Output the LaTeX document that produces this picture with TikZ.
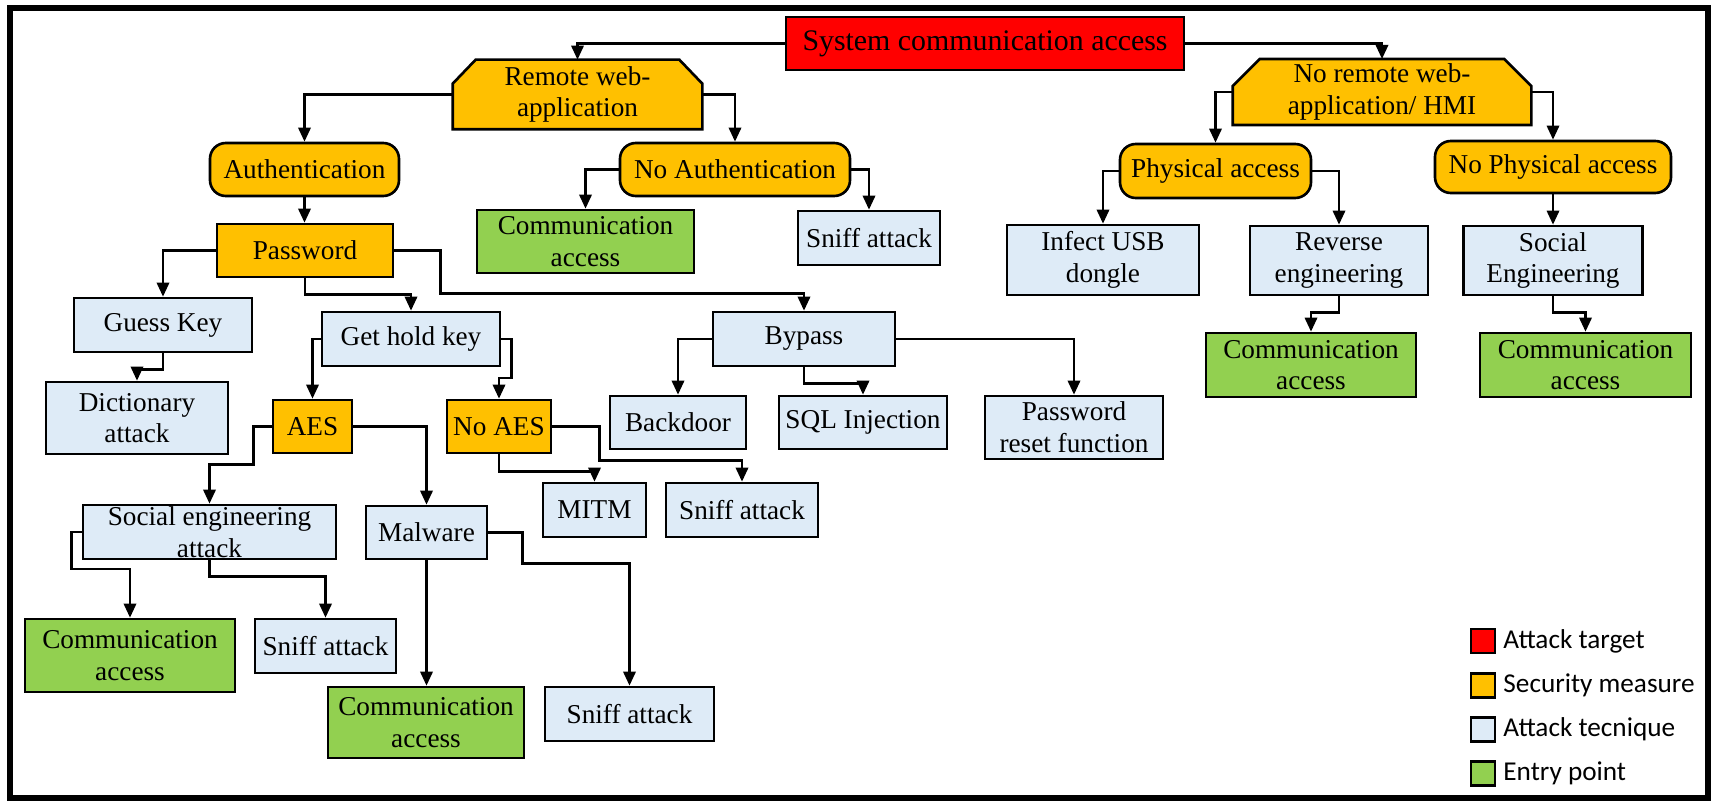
\documentclass[tikz,border=0pt]{standalone}
\usepackage{fontspec}
\setmainfont{Liberation Serif}
\newfontfamily\legendfont{Carlito}
\usepackage{tikz}
\usetikzlibrary{arrows.meta,backgrounds,positioning}
\usetikzlibrary{calc}
\definecolor{target}{HTML}{FF0000}
\definecolor{measure}{HTML}{FFC000}
\definecolor{technique}{HTML}{DEEBF7}
\definecolor{entry}{HTML}{92D050}

\begin{document}
\begin{tikzpicture}[x=0.02cm, y=-0.02cm,
	boxline/.style={draw, line width=1.5pt},
	box/.style={boxline, align=center, inner sep=2pt, font=\fontsize{15.5}{18}\selectfont},
	wh/.style 2 args={minimum width=#1*0.02cm, minimum height=#2*0.02cm},
	tech/.style={box, fill=technique},
	entrybox/.style={box, fill=entry},
	guard/.style={box, fill=measure},
	guardround/.style={guard, rounded corners=9pt},
	chamf/.style={box, draw=none},
	link/.style={draw, line width=1.4pt, -{Triangle[length=8pt,width=7pt]}},
	legsq/.style={draw, line width=1.2pt, minimum size=24*0.02cm, inner sep=0pt},
	legtxt/.style={font=\legendfont\fontsize{15.5}{18}\selectfont, inner sep=0pt}
	]
	\useasboundingbox (0,0) rectangle (1715,803);
	\draw[line width=3pt] (10,8) rectangle (1708,798);

	\node[box, fill=target, wh={398}{53}, font=\fontsize{17}{20}\selectfont] (root) at (985,43.5) {System communication access};
	\node[chamf, wh={247}{67}] (remote) at (577.5,94.5) {Remote web-\\application};
	\node[chamf, wh={296}{62}] (noremote) at (1382,92) {No remote web-\\application/ HMI};
	\node[guardround, wh={189}{53}] (auth) at (304.5,169.5) {Authentication};
	\node[guardround, wh={230}{53}] (noauth) at (735,169.5) {No Authentication};
	\node[guard, wh={176}{53}] (password) at (305,250.5) {Password};
	\node[entrybox, wh={217}{63}] (comm1) at (585.5,241.5) {Communication\\access};
	\node[tech, wh={142}{54}] (sniff1) at (869,238) {Sniff attack};
	\node[guardround, wh={191}{54}] (phys) at (1215.5,171) {Physical access};
	\node[guardround, wh={236}{52}] (nophys) at (1553,167) {No Physical access};
	\node[tech, wh={192}{70}] (usb) at (1103,260) {Infect USB\\dongle};
	\node[tech, wh={178}{69}] (reverse) at (1339,260.5) {Reverse\\engineering};
	\node[tech, wh={179}{69}] (soceng) at (1553,260.5) {Social\\Engineering};
	\node[entrybox, wh={210}{64}] (comm2) at (1311,365) {Communication\\access};
	\node[entrybox, wh={211}{64}] (comm3) at (1585.5,365) {Communication\\access};
	\node[tech, wh={178}{54}] (guess) at (163,325) {Guess Key};
	\node[tech, wh={182}{72}] (dict) at (137,418) {Dictionary\\attack};
	\node[tech, wh={178}{54}] (gethold) at (411,339) {Get hold key};
	\node[tech, wh={182}{54}] (bypass) at (804,339) {Bypass};
	\node[guard, wh={79}{53}] (aes) at (312.5,426.5) {AES};
	\node[guard, wh={104}{53}] (noaes) at (499,426.5) {No AES};
	\node[tech, wh={136}{53}] (backdoor) at (678,422.5) {Backdoor};
	\node[tech, wh={168}{53}] (sql) at (863,422.5) {SQL Injection};
	\node[tech, wh={178}{63}] (pwreset) at (1074,427.5) {Password\\reset function};
	\node[tech, wh={253}{54}, inner ysep=0pt] (socatt) at (209.5,532) {Social engineering\\attack};
	\node[tech, wh={121}{53}] (malware) at (426.5,532.5) {Malware};
	\node[tech, wh={103}{54}] (mitm) at (594.5,510) {MITM};
	\node[tech, wh={152}{54}] (sniff2) at (742,510) {Sniff attack};
	\node[entrybox, wh={210}{73}] (comm4) at (130,655.5) {Communication\\access};
	\node[tech, wh={141}{54}] (sniff3) at (325.5,646) {Sniff attack};
	\node[entrybox, wh={196}{71}] (comm5) at (426,722.5) {Communication\\access};
	\node[tech, wh={169}{54}] (sniff4) at (629.5,714) {Sniff attack};

	\begin{scope}[on background layer]
		\fill[white] (0,0) rectangle (1715,803);
		\draw[boxline, fill=measure] (remote.south west) -- ($(remote.north west)+(0,24)$) -- ($(remote.north west)+(23,0)$)
			-- ($(remote.north east)+(-23,0)$) -- ($(remote.north east)+(0,24)$) -- (remote.south east) -- cycle;
		\draw[boxline, fill=measure] (noremote.south west) -- ($(noremote.north west)+(0,27)$) -- ($(noremote.north west)+(27,0)$)
			-- ($(noremote.north east)+(-27,0)$) -- ($(noremote.north east)+(0,27)$) -- (noremote.south east) -- cycle;
	\end{scope}

	\draw[link] (root.west) -| (remote.north);
	\draw[link] (root.east) -| (noremote.north);
	\draw[link] (remote.west) -| (auth.north);
	\draw[link] (remote.east) -| (noauth.north);
	\draw[link] (auth.south) -- (auth.south |- password.north);
	\draw[link] (noauth.west) -| (comm1.north);
	\draw[link] (noauth.east) -| (sniff1.north);
	\draw[link] (noremote.west) -| (phys.north);
	\draw[link] (noremote.east) -| (nophys.north);
	\draw[link] (phys.west) -| (usb.north);
	\draw[link] (phys.east) -| (reverse.north);
	\draw[link] (nophys.south) -- (nophys.south |- soceng.north);
	\draw[link] (reverse.south) -- ++(0,16) -| (comm2.north);
	\draw[link] (soceng.south) -- ++(0,16) -| (comm3.north);
	\draw[link] (password.west) -| (guess.north);
	\draw[link] (guess.south) -- ++(0,16) -| (dict.north);
	\draw[link] (password.south) -- ++(0,16) -| (gethold.north);
	\draw[link] (password.east) -- ++(46,0) -- ++(0,43) -| (bypass.north);
	\draw[link] (gethold.west) -| (aes.north);
	\draw[link] (gethold.east) -- ++(10,0) -- ++(0,39) -| (noaes.north);
	\draw[link] (bypass.west) -| (backdoor.north);
	\draw[link] (bypass.south) -- ++(0,16) -| (sql.north);
	\draw[link] (bypass.east) -| (pwreset.north);
	\draw[link] (aes.west) -- ++(-18,0) -- ++(0,38) -| (socatt.north);
	\draw[link] (aes.east) -| (malware.north);
	\draw[link] (noaes.south) -- ++(0,17) -| (mitm.north);
	\draw[link] (noaes.east) -- ++(47,0) -- ++(0,34) -| (sniff2.north);
	\draw[link] (socatt.west) -- ++(-10,0) -- ++(0,37) -| (comm4.north);
	\draw[link] (socatt.south) -- ++(0,16) -| (sniff3.north);
	\draw[link] (malware.south) -- (malware.south |- comm5.north);
	\draw[link] (malware.east) -- ++(34,0) -- ++(0,31) -| (sniff4.north);

	\node[legsq, fill=target] (key1) at (1483,641) {};
	\node[legsq, fill=measure] (key2) at (1483,685.5) {};
	\node[legsq, fill=technique] (key3) at (1483,729.5) {};
	\node[legsq, fill=entry] (key4) at (1483,773.5) {};
	\node[legtxt, right=4pt of key1] (keytxt1) {Attack target};
	\node[legtxt, right=4pt of key2] (keytxt2) {Security measure};
	\node[legtxt, right=4pt of key3] (keytxt3) {Attack tecnique};
	\node[legtxt, right=4pt of key4] (keytxt4) {Entry point};
\end{tikzpicture}
\end{document}
